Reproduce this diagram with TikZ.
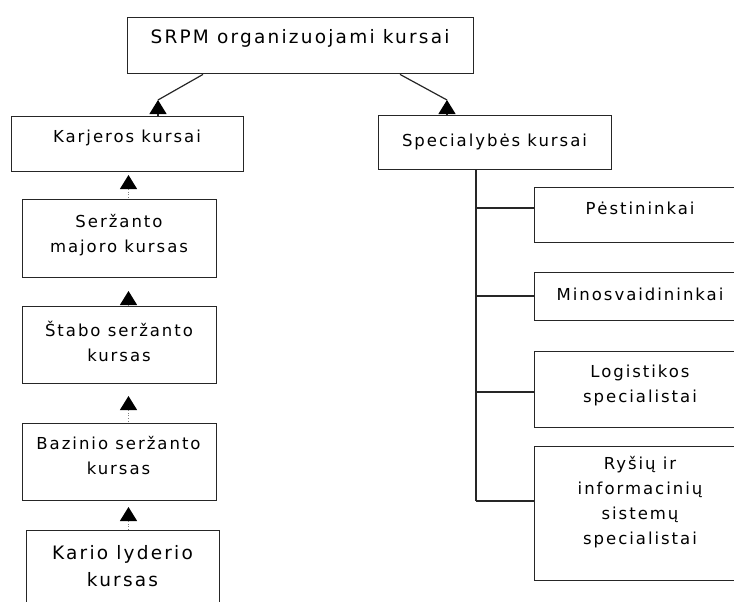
\documentclass[tikz,border=0pt]{standalone}
\usepackage{fontspec}
\setmainfont{DejaVu Sans}[LetterSpace=12]
\usetikzlibrary{arrows.meta}
\begin{document}
\begin{tikzpicture}[x=1pt,y=-1pt,
  box/.style={draw=black!85, line width=1.4pt, rectangle, inner sep=0pt, anchor=north west},
  lbl/.style={align=center, font=\fontsize{16.5}{25}\selectfont, inner sep=0pt},
  big/.style={font=\fontsize{18.5}{27}\selectfont},
  con/.style={draw=black!85, line width=1.2pt},
  tri/.style={arrows={Triangle[width=17pt,length=14pt,color=black]-}},
  faint/.style={draw=black!50, line width=0.7pt, dotted}
]
\useasboundingbox (0,0) rectangle (734,602);
\clip (0,0) rectangle (734,602);
% boxes
\node[box, minimum width=346pt, minimum height=56pt] (top) at (127,17) {};
\node[box, minimum width=232pt, minimum height=55pt] (karj) at (11,116) {};
\node[box, minimum width=233pt, minimum height=54pt] (spec) at (378,115) {};
\node[box, minimum width=194pt, minimum height=78pt] (serz) at (22,199) {};
\node[box, minimum width=194pt, minimum height=77pt] (stab) at (22,306) {};
\node[box, minimum width=194pt, minimum height=77pt] (baz) at (22,423) {};
\node[box, minimum width=193pt, minimum height=100pt] (kar) at (26,530) {};
\node[box, minimum width=212pt, minimum height=55pt] (pest) at (534,187) {};
\node[box, minimum width=212pt, minimum height=48pt] (mino) at (534,272) {};
\node[box, minimum width=212pt, minimum height=76pt] (logi) at (534,351) {};
\node[box, minimum width=212pt, minimum height=134pt] (rysi) at (534,446) {};
% texts
\node[lbl,big] (topt) at (300,38) {SRPM organizuojami kursai};
\node[lbl] (karjt) at (127,138) {Karjeros kursai};
\node[lbl] (spect) at (494.5,142) {Specialybės kursai};
\node[lbl] (serzt) at (119,235.5) {Seržanto\\majoro kursas};
\node[lbl] (stabt) at (119,341) {Štabo seržanto\\kursas};
\node[lbl] (bazt) at (118.5,455.5) {Bazinio seržanto\\kursas};
\node[lbl,big] (kart) at (122.5,566) {Kario lyderio\\kursas};
\node[lbl] (pestt) at (640,208) {Pėstininkai};
\node[lbl] (minot) at (640,294) {Minosvaidininkai};
\node[lbl] (logit) at (640,385.5) {Logistikos\\specialistai};
\node[lbl] (rysit) at (640,502) {Ryšių ir\\informacinių\\sistemų\\specialistai};
% diagonal connectors
\coordinate (a1) at (158,100);
\coordinate (a2) at (447,100);
\draw[con] ([xshift=76pt]top.south west) -- (a1);
\draw[con,tri] (a1) -- (a1 |- karj.north);
\draw[con] ([xshift=273pt]top.south west) -- (a2);
\draw[con,tri] (a2) -- (a2 |- spec.north);
% vertical chain
\coordinate (v1) at (128.5,175);
\coordinate (v2) at (128.5,291);
\coordinate (v3) at (128.5,396);
\coordinate (v4) at (128.5,507);
\draw[con,tri] (v1) -- ++(0,14);
\draw[faint] ([yshift=-14pt]v1) -- (v1 |- serz.north);
\draw[con,tri] (v2) -- ++(0,14);
\draw[faint] ([yshift=-14pt]v2) -- (v2 |- stab.north);
\draw[con,tri] (v3) -- ++(0,14);
\draw[faint] ([yshift=-14pt]v3) -- (v3 |- baz.north);
\draw[con,tri] (v4) -- ++(0,14);
\draw[faint] ([yshift=-14pt]v4) -- (v4 |- kar.north);
% right tree
\coordinate (b1) at (476,208);
\coordinate (b2) at (476,296);
\coordinate (b3) at (476,392);
\coordinate (b4) at (476,501);
\draw[con] (b1 |- spec.south) -- (b4);
\draw[con] (b1) -- (b1 -| pest.west);
\draw[con] (b2) -- (b2 -| mino.west);
\draw[con] (b3) -- (b3 -| logi.west);
\draw[con] (b4) -- (b4 -| rysi.west);
\end{tikzpicture}
\end{document}
